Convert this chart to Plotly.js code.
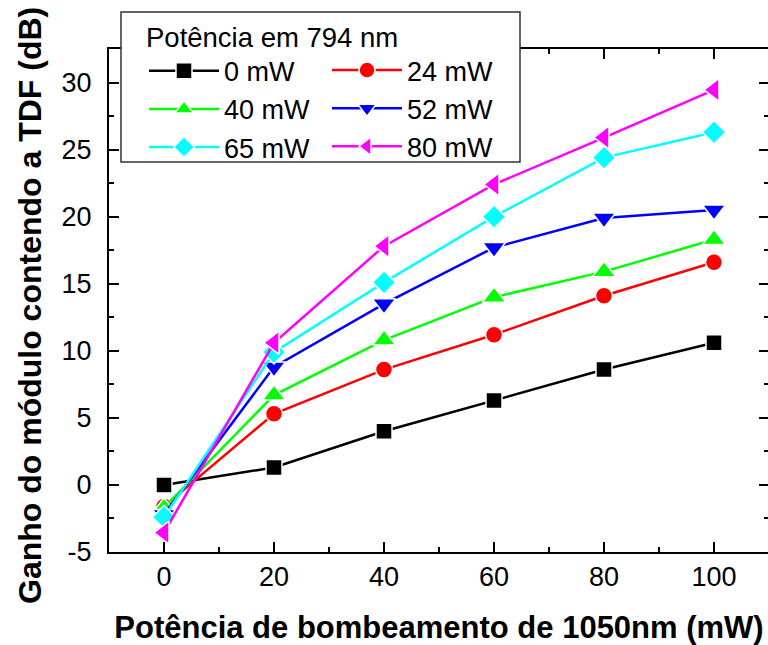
<!DOCTYPE html>
<html>
<head>
<meta charset="utf-8">
<script src="https://cdn.plot.ly/plotly-3.0.1.min.js"></script>
<style>
  html, body { margin: 0; padding: 0; overflow: hidden; background: #fff; }
  #chart { width: 770px; height: 645px; }
</style>
</head>
<body>
<div id="chart"></div>
<script>
// ---- data ----
const pump1050 = [0, 20, 40, 60, 80, 100];
const seriesNames = ["0 mW", "24 mW", "40 mW", "52 mW", "65 mW", "80 mW"];
const gain_0mW  = [0.0, 1.3, 4.0, 6.3, 8.6, 10.6];
const gain_24mW = [-1.6, 5.3, 8.6, 11.2, 14.1, 16.6];
const gain_40mW = [-1.7, 6.7, 10.8, 14.0, 15.9, 18.3];
const gain_52mW = [-2.2, 8.8, 13.5, 17.7, 19.9, 20.5];
const gain_65mW = [-2.4, 9.9, 15.1, 20.0, 24.4, 26.3];
const gain_80mW = [-3.55, 10.6, 17.8, 22.4, 25.9, 29.45];
const xTicks = [0, 20, 40, 60, 80, 100];
const yTicks = [-5, 0, 5, 10, 15, 20, 25, 30];
const xTitle = "Potência de bombeamento de 1050nm (mW)";
const yTitle = "Ganho do módulo contendo a TDF (dB)";
const legendTitle = "Potência em 794 nm";

const allGains = [gain_0mW, gain_24mW, gain_40mW, gain_52mW, gain_65mW, gain_80mW];
const colors = ["#000000", "#ff0000", "#00ff00", "#0000ff", "#00ffff", "#ff00ff"];
const symbols = ["square", "circle", "triangle-up", "triangle-down", "diamond", "triangle-left"];
const sizes = [16, 17, 20, 20, 18, 20];
const legendOf = ["legend", "legend2", "legend", "legend2", "legend", "legend2"];

const FONT = "Liberation Sans, Arial, Helvetica, sans-serif";

const traces = allGains.map((g, i) => ({
  x: pump1050,
  y: g,
  name: seriesNames[i],
  type: "scatter",
  mode: "lines+markers",
  line: { color: colors[i], width: 2.5 },
  marker: { color: colors[i], symbol: symbols[i], size: sizes[i], line: { color: "#ffffff", width: 1.5 } },
  legend: legendOf[i],
  cliponaxis: false
}));

const px = v => (v - 109) / 660;
const py = v => (552 - v) / 503;

const layout = {
  width: 770,
  height: 645,
  margin: { l: 109, r: 1, t: 49, b: 93 },
  paper_bgcolor: "#ffffff",
  plot_bgcolor: "#ffffff",
  font: { family: FONT, color: "#000" },
  showlegend: true,
  xaxis: {
    range: [-10, 110],
    tickvals: xTicks,
    ticktext: xTicks.map(String),
    ticks: "inside",
    ticklen: 10,
    tickwidth: 2,
    tickcolor: "#000",
    minor: { dtick: 10, ticks: "inside", ticklen: 5, tickwidth: 2, tickcolor: "#000" },
    showline: true,
    linecolor: "#000",
    linewidth: 2,
    mirror: "ticks",
    showgrid: false,
    zeroline: false,
    tickfont: { size: 27, family: FONT },
    title: { text: xTitle, font: { size: 31, family: FONT, weight: "bold" }, standoff: 29 }
  },
  yaxis: {
    range: [-5, 32.5],
    tickvals: yTicks,
    ticktext: yTicks.map(String),
    ticks: "inside",
    ticklen: 10,
    tickwidth: 2,
    tickcolor: "#000",
    minor: { dtick: 2.5, ticks: "inside", ticklen: 5, tickwidth: 2, tickcolor: "#000" },
    showline: true,
    linecolor: "#000",
    linewidth: 2,
    mirror: "ticks",
    showgrid: false,
    zeroline: false,
    tickfont: { size: 27, family: FONT },
    ticklabelstandoff: 10
  },
  annotations: [{
    text: yTitle,
    xref: "paper", yref: "paper",
    x: px(30), y: py(306),
    xanchor: "center", yanchor: "middle",
    textangle: -90,
    showarrow: false,
    font: { size: 32, family: FONT, weight: "bold", color: "#000" }
  }],
  legend: {
    x: px(144), y: py(11), xanchor: "left", yanchor: "top",
    bgcolor: "rgba(0,0,0,0)", borderwidth: 0,
    font: { size: 27, family: FONT },
    itemwidth: 70,
    tracegroupgap: 0,
    title: { text: legendTitle, font: { size: 27.5, family: FONT }, side: "top" }
  },
  legend2: {
    x: px(327), y: py(46), xanchor: "left", yanchor: "top",
    bgcolor: "rgba(0,0,0,0)", borderwidth: 0,
    font: { size: 27, family: FONT },
    itemwidth: 70,
    tracegroupgap: 0
  },
  shapes: [{
    type: "rect", xref: "paper", yref: "paper",
    x0: px(121), x1: px(520), y0: py(162), y1: py(12),
    line: { color: "#333", width: 1.5 },
    fillcolor: "#ffffff",
    layer: "above"
  }]
};

Plotly.newPlot("chart", traces, layout, { displayModeBar: false, staticPlot: true });
</script>
</body>
</html>
